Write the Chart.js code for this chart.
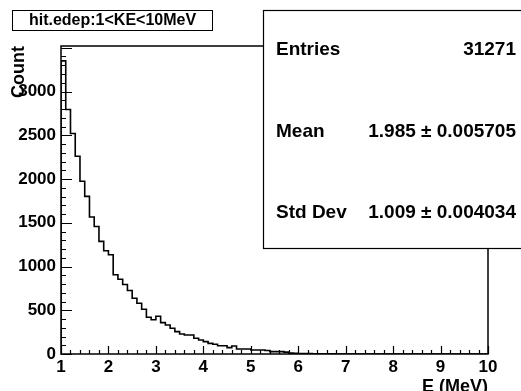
<!DOCTYPE html>
<html>
<head>
<meta charset="utf-8">
<script src="https://cdn.jsdelivr.net/npm/chart.js@4.4.1/dist/chart.umd.min.js"></script>
<style>
  html, body { margin: 0; padding: 0; background: #fff; }
  canvas { display: block; }
</style>
</head>
<body>
<canvas id="hEdep" width="521" height="391"></canvas>
<script>
// hit.edep for 1 < KE < 10 MeV, 90 bins of 0.1 MeV
const binLow = 1;
const binWidth = 0.1;
const binCounts = [
  3350, 2795, 2520, 2260, 1974, 1802, 1566, 1458, 1287, 1180,
  1134,  905,  855,  795,  725,  638,  580,  512,  420,  392,
   432,  359,  332,  294,  256,  229,  218,  218,  180,  160,
   141,  122,  111,   95,   95,   73,   92,   57,   57,   57,
    46,   46,   46,   40,   27,   27,   27,   22,   10,    8,
     6,    5,    4,    3,    3,    2,    2,    1,    0,    0,
     0,    0,    0,    0,    0,    0,    0,    0,    0,    0,
     0,    0,    0,    0,    0,    0,    0,    0,    0,    0,
     0,    0,    0,    0,    0,    0,    0,    0,    0,    0
];

const xMin = 1, xMax = 10, xMinorStep = 0.2;
const xTickValues = [1, 2, 3, 4, 5, 6, 7, 8, 9, 10];
const yMax = 3520, yMajorStep = 500, yMinorStep = 100;
const yTickValues = [0, 500, 1000, 1500, 2000, 2500, 3000];

const histTitle = 'hit.edep:1<KE<10MeV';
const statLabels = ['Entries', 'Mean', 'Std Dev'];
const statValues = ['31271', '1.985 \u00b1 0.005705', '1.009 \u00b1 0.004034'];

const FONT = '"Liberation Sans", Arial, Helvetica, sans-serif';

// step outline: start on the axis, one point per bin low edge, close back to 0
const points = [{ x: binLow, y: 0 }];
binCounts.forEach((c, i) => points.push({ x: binLow + i * binWidth, y: c }));
points.push({ x: xMax, y: 0 });

// ROOT-ish frame with ticks pointing into the pad
const padFrame = {
  id: 'padFrame',
  afterDatasetsDraw(chart) {
    const { ctx, chartArea: a, scales: { x, y } } = chart;
    ctx.save();
    ctx.strokeStyle = '#000';
    ctx.lineWidth = 1.5;
    ctx.strokeRect(a.left, a.top, a.right - a.left, a.bottom - a.top);
    ctx.lineWidth = 1.2;
    ctx.beginPath();
    for (let v = 0; v <= yMax; v += yMinorStep) {
      const py = Math.round(y.getPixelForValue(v)) + 0.5;
      const len = v % yMajorStep === 0 ? 11 : 5;
      ctx.moveTo(a.left, py);
      ctx.lineTo(a.left + len, py);
    }
    const nx = Math.round((xMax - xMin) / xMinorStep);
    for (let i = 0; i <= nx; i++) {
      const px = Math.round(x.getPixelForValue(xMin + i * xMinorStep)) + 0.5;
      const len = i % 5 === 0 ? 8 : 4;
      ctx.moveTo(px, a.bottom);
      ctx.lineTo(px, a.bottom - len);
    }
    ctx.stroke();
    ctx.restore();
  },
  afterDraw(chart) {
    const { ctx } = chart;
    ctx.save();
    ctx.fillStyle = '#fff';
    ctx.strokeStyle = '#000';

    // title box
    ctx.lineWidth = 1;
    ctx.fillRect(12.5, 10.5, 200, 20);
    ctx.strokeRect(12.5, 10.5, 200, 20);
    ctx.fillStyle = '#000';
    ctx.font = 'bold 16px ' + FONT;
    ctx.textAlign = 'center';
    ctx.textBaseline = 'middle';
    ctx.fillText(histTitle, 112.5, 21);

    // stats box
    ctx.fillStyle = '#fff';
    ctx.lineWidth = 1.2;
    ctx.fillRect(263.5, 10.5, 260, 238);
    ctx.strokeRect(263.5, 10.5, 260, 238);
    ctx.fillStyle = '#000';
    ctx.font = 'bold 19px ' + FONT;
    const rowY = [50, 132, 213];
    statLabels.forEach((lab, i) => {
      ctx.textAlign = 'left';
      ctx.fillText(lab, 276, rowY[i]);
      ctx.textAlign = 'right';
      ctx.fillText(statValues[i], 516, rowY[i]);
    });
    ctx.restore();
  }
};

new Chart(document.getElementById('hEdep'), {
  type: 'line',
  data: {
    datasets: [{
      data: points,
      stepped: 'before',
      borderColor: '#000',
      borderWidth: 1.6,
      pointRadius: 0,
      fill: false
    }]
  },
  options: {
    responsive: false,
    animation: false,
    devicePixelRatio: 1,
    parsing: false,
    layout: { padding: { top: 46, right: 33, left: 0, bottom: 0 } },
    plugins: { legend: { display: false }, tooltip: { enabled: false } },
    scales: {
      x: {
        type: 'linear', min: xMin, max: xMax,
        grid: { display: false, drawTicks: false, tickLength: 0 }, border: { display: false },
        afterFit: s => { s.height = 37; },
        afterBuildTicks: s => { s.ticks = xTickValues.map(v => ({ value: v })); },
        ticks: {
          padding: 3, maxRotation: 0, autoSkip: false,
          color: '#000', font: { family: FONT, size: 17, weight: 'bold' },
          callback: v => String(v)
        },
        title: {
          display: true, text: 'E (MeV)', align: 'end', color: '#000',
          font: { family: FONT, size: 18, weight: 'bold', lineHeight: 1 },
          padding: { top: 0, bottom: -5 }
        }
      },
      y: {
        min: 0, max: yMax,
        grid: { display: false, drawTicks: false, tickLength: 0 }, border: { display: false },
        afterFit: s => { s.width = 61; },
        afterBuildTicks: s => { s.ticks = yTickValues.map(v => ({ value: v })); },
        ticks: {
          padding: 5, autoSkip: false,
          color: '#000', font: { family: FONT, size: 17, weight: 'bold' },
          callback: v => String(v)
        },
        title: {
          display: true, text: 'Count', align: 'end', color: '#000',
          font: { family: FONT, size: 18, weight: 'bold', lineHeight: 1 },
          padding: { top: 10.5, bottom: 0 }
        }
      }
    }
  },
  plugins: [padFrame]
});
</script>
</body>
</html>
